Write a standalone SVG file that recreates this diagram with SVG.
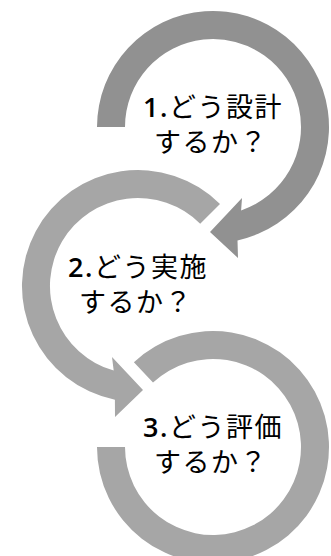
<svg xmlns="http://www.w3.org/2000/svg" width="331" height="556" viewBox="0 0 331 556">
<style>
.dark{fill:#919191}
.light{fill:#a6a6a6}
.t{font-family:"Noto Sans CJK JP","Noto Sans",sans-serif;font-size:27px;fill:#000;text-anchor:middle;letter-spacing:1.5px}
.n{font-family:"Open Sans","Noto Sans",sans-serif;font-weight:600}
</style>
<rect width="331" height="556" fill="#fff"/>
<g id="connectors">
<path id="arrow1" class="dark" d="M97,127 A116,116 0 1 1 237.5,240.4 L238,258 L210,232 L242,198 L241.1,210.4 A88,88 0 1 0 125,127 Z"/>
<path id="arrow2" class="light" d="M220,204 A116,116 0 1 0 114.9,399.7 L115,417 L143,390 L112,357 L113.7,370.6 A88,88 0 1 1 200.2,223.8 Z"/>
<path id="arrow3" class="light" d="M133.9,362.2 A116,116 0 1 1 97,447 L125,447 A88,88 0 1 0 153,382.6 Z"/>
</g>
<g id="node1">
<text class="t" x="213" y="117"><tspan class="n">1.</tspan>どう設計</text>
<text class="t" x="211" y="152">するか？</text>
</g>
<g id="node2">
<text class="t" x="138" y="277"><tspan class="n">2.</tspan>どう実施</text>
<text class="t" x="136" y="312">するか？</text>
</g>
<g id="node3">
<text class="t" x="213" y="437"><tspan class="n">3.</tspan>どう評価</text>
<text class="t" x="211" y="472">するか？</text>
</g>
</svg>
